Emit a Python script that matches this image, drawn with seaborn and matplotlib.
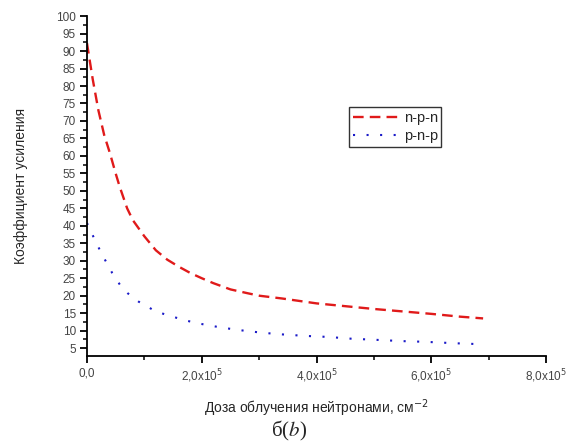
import numpy as np
import pandas as pd
import matplotlib
matplotlib.use('Agg')
import matplotlib.pyplot as plt
from matplotlib.ticker import MultipleLocator, FixedLocator
import seaborn as sns

# data (dose in units of 1e5 cm^-2)
dose_npn = [0, 0.1, 0.2, 0.3, 0.4, 0.5, 0.57, 0.7, 0.8, 1.0, 1.2, 1.4, 1.6, 1.8,
            2.0, 2.2, 2.5, 2.8, 3.0, 3.4, 4.0, 4.5, 5.0, 5.5, 6.0, 6.5, 6.9]
gain_npn = [92.3, 82, 73, 66, 60.8, 55, 51.2, 45, 41.6, 37, 33, 30.3, 28.3, 26.5,
            25, 23.6, 21.8, 20.7, 20, 19.2, 17.8, 17, 16.2, 15.5, 14.8, 14, 13.5]
dose_pnp = [0, 0.1, 0.25, 0.44, 0.6, 0.71, 0.9, 1.06, 1.2, 1.41, 1.7, 1.93, 2.3,
            2.63, 3.0, 3.33, 3.8, 4.2, 4.6, 5.0, 5.5, 5.9, 6.4, 6.9]
gain_pnp = [40.8, 37.3, 32.2, 26.5, 22.5, 20.7, 18.3, 16.8, 15.5, 14.4, 13, 12.1, 11,
            10.2, 9.5, 9.0, 8.5, 8.2, 7.7, 7.4, 7.0, 6.8, 6.4, 6.1]
x_ticks = [0, 2e5, 4e5, 6e5, 8e5]
x_labels = ['0,0', r'2,0x10$^5$', r'4,0x10$^5$', r'6,0x10$^5$', r'8,0x10$^5$']

sns.set_style('ticks')
plt.rcParams['font.family'] = ['Liberation Sans', 'DejaVu Sans']

df_npn = pd.DataFrame({'x': np.array(dose_npn) * 1e5, 'y': gain_npn})
df_pnp = pd.DataFrame({'x': np.array(dose_pnp) * 1e5, 'y': gain_pnp})

fig = plt.figure(figsize=(5.72, 4.48), dpi=100)
ax = fig.add_axes([0.152, 0.205, 0.803, 0.759])

sns.lineplot(data=df_npn, x='x', y='y', ax=ax, color='#e01a1a', linewidth=1.7,
             linestyle=(0, (4.5, 2.6)), label='n-p-n', sort=False)
sns.lineplot(data=df_pnp, x='x', y='y', ax=ax, color='#1a1ac8', linewidth=1.5,
             linestyle=(0, (1, 5.5)), label='p-n-p', sort=False)

ax.set_xlim(0, 8e5)
ax.set_ylim(2.7, 100)
ax.xaxis.set_major_locator(FixedLocator(x_ticks))
ax.xaxis.set_minor_locator(MultipleLocator(1e5))
ax.set_xticklabels(x_labels)
ax.yaxis.set_major_locator(MultipleLocator(5))
ax.yaxis.set_minor_locator(MultipleLocator(2.5))
ax.set_yticks(np.arange(5, 101, 5))

for s in ['top', 'right']:
    ax.spines[s].set_visible(False)
for s in ['left', 'bottom']:
    ax.spines[s].set_linewidth(1.3)
    ax.spines[s].set_color('black')
ax.tick_params(which='major', direction='out', length=5, width=1.3, color='black',
               labelsize=8.5, labelcolor='#444444', pad=3)
ax.tick_params(which='minor', direction='out', length=3, width=1.1, color='black')

ax.set_xlabel('Доза облучения нейтронами, см$^{-2}$', fontsize=10, labelpad=9)
ax.set_ylabel('Коэффициент усиления', fontsize=10, labelpad=20)

leg = ax.legend(loc='upper left', bbox_to_anchor=(349 / 572, 1 - 107 / 448),
                bbox_transform=fig.transFigure, fontsize=10.5, frameon=True,
                fancybox=False, handlelength=3.2, handletextpad=0.3,
                borderpad=0.25, labelspacing=0.3, borderaxespad=0)
leg.get_frame().set_edgecolor('black')
leg.get_frame().set_linewidth(1.0)

fig.text(0.505, 0.038, r'б($b$)', ha='center', va='center', fontsize=15,
         family='Liberation Serif', math_fontfamily='stix')

fig.savefig('out.png', dpi=100)
